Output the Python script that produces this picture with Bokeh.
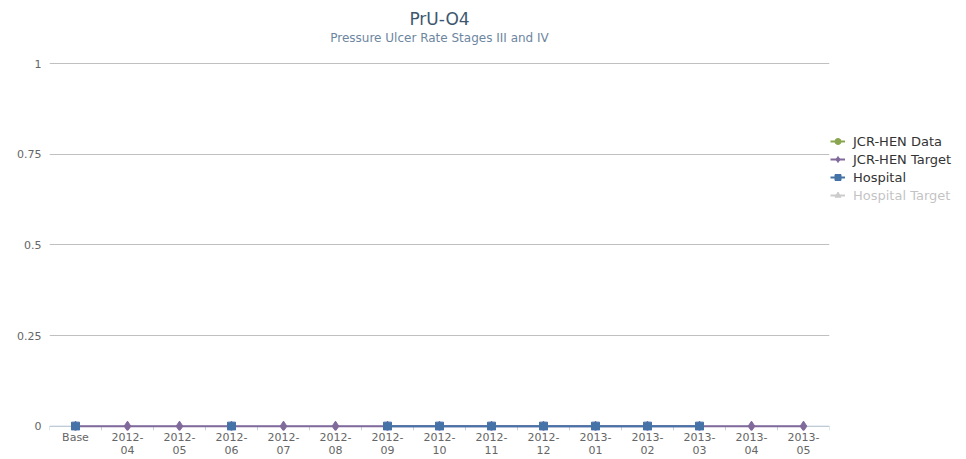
from bokeh.plotting import figure
from bokeh.layouts import column, row
from bokeh.models import (FactorRange, Range1d, Legend, LegendItem, Span, Label,
                          FixedTicker, ColumnDataSource)
from bokeh.transform import dodge
from bokeh.embed import file_html
from bokeh.resources import INLINE

nan = float("nan")

# ---------------- data ----------------
categories = ["Base", "2012-04", "2012-05", "2012-06", "2012-07", "2012-08",
              "2012-09", "2012-10", "2012-11", "2012-12", "2013-01", "2013-02",
              "2013-03", "2013-04", "2013-05"]
x_tick_labels = ["Base", "2012-\n04", "2012-\n05", "2012-\n06", "2012-\n07",
                 "2012-\n08", "2012-\n09", "2012-\n10", "2012-\n11", "2012-\n12",
                 "2013-\n01", "2013-\n02", "2013-\n03", "2013-\n04", "2013-\n05"]
jcr_hen_data = [nan, nan, nan, nan, nan, nan, nan, nan, nan, nan, nan, nan, nan, nan, nan]
jcr_hen_target = [0, 0, 0, 0, 0, 0, 0, 0, 0, 0, 0, 0, 0, 0, 0]
hospital = [0, nan, nan, 0, nan, nan, 0, 0, 0, 0, 0, 0, 0, nan, nan]
hospital_target = [nan, nan, nan, nan, nan, nan, nan, nan, nan, nan, nan, nan, nan, nan, nan]
y_ticks = [0, 0.25, 0.5, 0.75, 1]
y_tick_labels = ["0", "0.25", "0.5", "0.75", "1"]
series_names = ["JCR-HEN Data", "JCR-HEN Target", "Hospital", "Hospital Target"]
title_text = "PrU-O4"
subtitle_text = "Pressure Ulcer Rate Stages III and IV"

# ---------------- styles ----------------
FONT = "DejaVu Sans"
GREEN, PURPLE, BLUE, HIDDEN = "#89A54E", "#80699B", "#4572A7", "#555555"
Y_START, Y_END = -0.012, 1.003
TOTAL_W, TOTAL_H = 966, 459
TITLE_H = 50
MAIN_W = 830
LEG_W = TOTAL_W - MAIN_W
BODY_H = TOTAL_H - TITLE_H

# factors shown on the axis are the (wrapped) tick labels of the categories
factors = x_tick_labels

# ---------------- title strip ----------------
t = figure(width=TOTAL_W, height=TITLE_H, output_backend="svg",
           toolbar_location=None, x_range=Range1d(0, TOTAL_W),
           y_range=Range1d(TITLE_H, 0), x_axis_location=None,
           y_axis_location=None, min_border=0, title=None)
t.outline_line_color = None
t.grid.visible = False
t.add_layout(Label(x=439, y=18, text=title_text, text_align="center",
                   text_baseline="middle", text_font=FONT,
                   text_font_size="17px", text_color="#3E576F"))
t.add_layout(Label(x=439, y=37, text=subtitle_text, text_align="center",
                   text_baseline="middle", text_font=FONT,
                   text_font_size="12px", text_color="#6D869F"))

# ---------------- main chart ----------------
p = figure(width=MAIN_W, height=BODY_H, output_backend="svg",
           toolbar_location=None, x_range=FactorRange(*factors),
           y_range=Range1d(Y_START, Y_END), title=None,
           min_border_left=49, min_border_right=1,
           min_border_top=12, min_border_bottom=0)
p.outline_line_color = None
p.background_fill_color = "white"
p.border_fill_color = "white"

p.xgrid.grid_line_color = None
p.ygrid.grid_line_color = "#C0C0C0"
p.ygrid.ticker = FixedTicker(ticks=y_ticks)

p.yaxis.ticker = FixedTicker(ticks=y_ticks)
p.yaxis.major_label_overrides = dict(zip(y_ticks, y_tick_labels))
p.yaxis.axis_line_color = None
p.yaxis.major_tick_line_color = None
p.yaxis.minor_tick_line_color = None
p.yaxis.major_tick_out = 0
p.yaxis.major_tick_in = 0
p.yaxis.minor_tick_out = 0
p.yaxis.major_label_standoff = 8
p.yaxis.major_label_text_font = FONT
p.yaxis.major_label_text_font_size = "11px"
p.yaxis.major_label_text_color = "#666666"

p.xaxis.axis_label = None
p.xaxis.axis_label_standoff = 0
p.xaxis.axis_line_color = None
p.xaxis.major_tick_line_color = None
p.xaxis.major_tick_out = 0
p.xaxis.major_tick_in = 0
p.xaxis.minor_tick_out = 0
p.xaxis.major_label_standoff = 0
p.xaxis.major_label_text_font = FONT
p.xaxis.major_label_text_font_size = "11px"
p.xaxis.major_label_text_line_height = 1.0
p.xaxis.major_label_text_color = "#666666"
p.xaxis.major_label_orientation = "horizontal"

# x axis baseline at 0 and category boundary ticks
p.add_layout(Span(location=0, dimension="width", line_color="#C0D0E0",
                  line_width=1, level="underlay"))
tick_src = ColumnDataSource(dict(cat=factors))
p.segment(x0=dodge("cat", -0.5, range=p.x_range), y0=0,
          x1=dodge("cat", -0.5, range=p.x_range), y1=Y_START,
          source=tick_src, line_color="#C0D0E0", line_width=1)
end_src = ColumnDataSource(dict(cat=factors[-1:]))
p.segment(x0=dodge("cat", 0.5, range=p.x_range), y0=0,
          x1=dodge("cat", 0.5, range=p.x_range), y1=Y_START,
          source=end_src, line_color="#C0D0E0", line_width=1)

src = ColumnDataSource(dict(x=factors, d=jcr_hen_data, t=jcr_hen_target,
                            h=hospital, ht=hospital_target))

p.line("x", "d", source=src, line_color=GREEN, line_width=2)
p.scatter("x", "d", source=src, marker="circle", size=8,
          fill_color=GREEN, line_color=GREEN)
p.line("x", "t", source=src, line_color=PURPLE, line_width=2)
p.scatter("x", "t", source=src, marker="diamond", size=10,
          fill_color=PURPLE, line_color=PURPLE)
p.line("x", "h", source=src, line_color=BLUE, line_width=2)
p.scatter("x", "h", source=src, marker="square", size=8,
          fill_color=BLUE, line_color=BLUE)
p.line("x", "ht", source=src, line_color=HIDDEN, line_width=2, visible=False)
p.scatter("x", "ht", source=src, marker="triangle", size=9,
          fill_color=HIDDEN, line_color=HIDDEN, visible=False)

# ---------------- legend panel ----------------
lg = figure(width=LEG_W, height=BODY_H, output_backend="svg",
            toolbar_location=None, x_range=Range1d(0, 1), y_range=Range1d(0, 1),
            x_axis_location=None, y_axis_location=None, min_border=0, title=None)
lg.outline_line_color = None
lg.grid.visible = False
# one placeholder row without coordinates: only the legend swatches are drawn
swatch = ColumnDataSource(dict(x=[nan], y=[nan]))
styles = [(GREEN, "circle", 8, True), (PURPLE, "diamond", 10, True),
          (BLUE, "square", 8, True), (HIDDEN, "triangle", 9, False)]
items = []
for name, (col, mk, sz, vis) in zip(series_names, styles):
    rl = lg.line("x", "y", source=swatch, line_color=col, line_width=2, visible=vis)
    rs = lg.scatter("x", "y", source=swatch, marker=mk, size=sz,
                    fill_color=col, line_color=col, visible=vis)
    items.append(LegendItem(label=name, renderers=[rl, rs]))

legend = Legend(items=items, location=(0, 226), click_policy="hide",
                inactive_fill_color="white", inactive_fill_alpha=0.7,
                border_line_color=None, background_fill_alpha=0,
                padding=0, spacing=0, margin=0, glyph_width=15,
                glyph_height=18, label_height=18, label_standoff=8,
                label_text_font=FONT, label_text_font_size="13px",
                label_text_color="#333333")
lg.add_layout(legend)

layout = column(t, row(p, lg, spacing=0), spacing=0)
open("out.html", "w").write(file_html(layout, INLINE))
